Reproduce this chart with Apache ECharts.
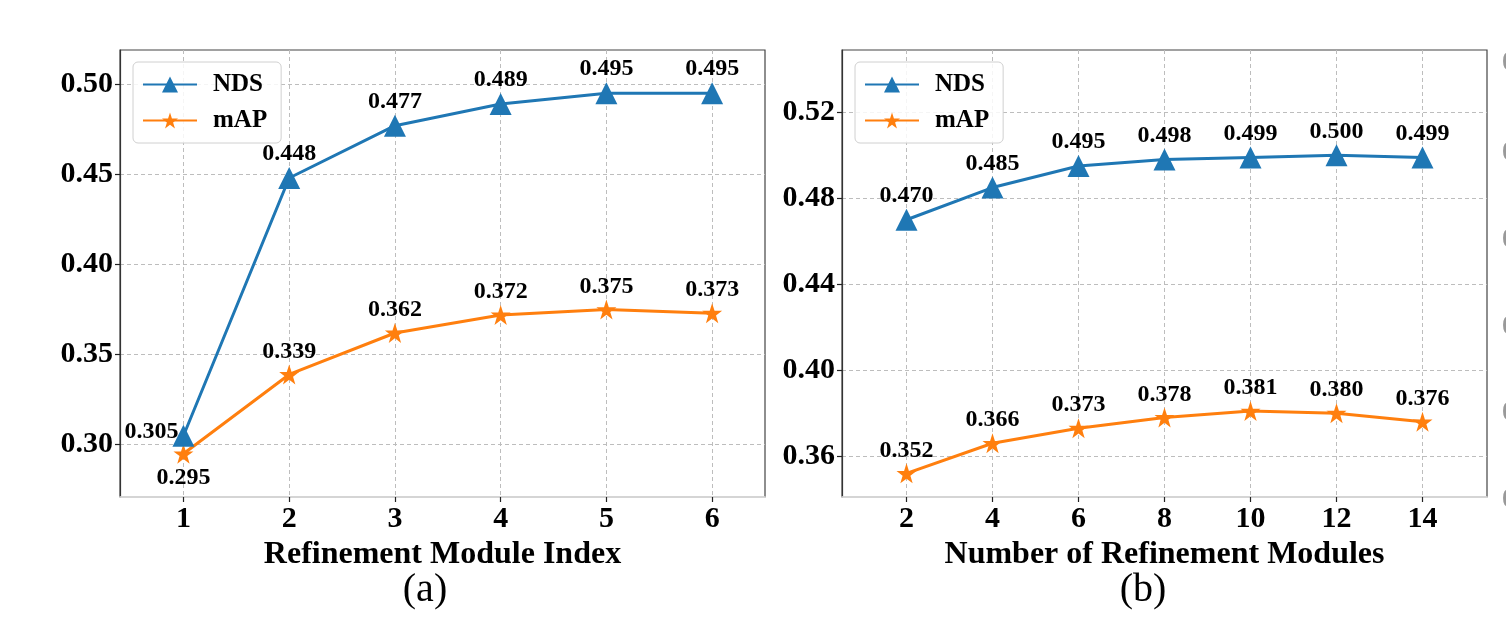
<!DOCTYPE html>
<html><head><meta charset="utf-8">
<script src="https://cdn.jsdelivr.net/npm/echarts@6/dist/echarts.min.js"></script>
<style>html,body{margin:0;padding:0;background:#fff}#c{width:1506px;height:624px}</style>
</head><body><div id="c"></div>
<script>
const xA = [1, 2, 3, 4, 5, 6];
const ndsA = [0.305, 0.448, 0.477, 0.489, 0.495, 0.495];
const mapA = [0.295, 0.339, 0.362, 0.372, 0.375, 0.373];
const xB = [2, 4, 6, 8, 10, 12, 14];
const ndsB = [0.470, 0.485, 0.495, 0.498, 0.499, 0.500, 0.499];
const mapB = [0.352, 0.366, 0.373, 0.378, 0.381, 0.380, 0.376];
const yTicksA = [0.30, 0.35, 0.40, 0.45, 0.50];
const yTicksB = [0.36, 0.40, 0.44, 0.48, 0.52];
const titleA = 'Refinement Module Index';
const titleB = 'Number of Refinement Modules';
const edgeGlyphYs = [63, 153, 240, 327, 413, 500];

const BLUE = '#1f77b4', ORANGE = '#ff7f0e';
const FONT = '"Liberation Serif","Times New Roman",serif';
const STAR = 'path://M50,0 L61.8,35.4 L99,35.4 L69,57.3 L80.3,92.7 L50,70.8 L19.7,92.7 L31,57.3 L1,35.4 L38.2,35.4 Z';
const chart = echarts.init(document.getElementById('c'));

function xAxis(gi, min, max, ticks, name) {
  return {
    type: 'value', gridIndex: gi, min: min, max: max,
    name: name, nameLocation: 'middle', nameGap: 35,
    nameTextStyle: {fontFamily: FONT, fontWeight: 'bold', fontSize: 32, color: '#000'},
    axisLine: {show: true, lineStyle: {color: '#e6e6e6', width: 1.5}},
    axisTick: {show: true, customValues: ticks, length: 5, lineStyle: {color: '#222', width: 1.2}},
    axisLabel: {customValues: ticks, margin: 7, fontFamily: FONT, fontWeight: 'bold', fontSize: 30, color: '#000'},
    splitLine: {show: true, lineStyle: {color: '#bdbdbd', type: [4, 3], width: 1}}
  };
}
function yAxis(gi, min, max, ticks) {
  return {
    type: 'value', gridIndex: gi, min: min, max: max,
    axisLine: {show: true, lineStyle: {color: '#333', width: 1.2}},
    axisTick: {show: true, customValues: ticks, length: 5, lineStyle: {color: '#222', width: 1.2}},
    axisLabel: {customValues: ticks, margin: 7, fontFamily: FONT, fontWeight: 'bold', fontSize: 30, color: '#000',
      formatter: v => v.toFixed(2)},
    splitLine: {show: true, lineStyle: {color: '#bdbdbd', type: [4, 3], width: 1}}
  };
}
const lblStyle = {show: true, position: 'top', distance: 1, fontFamily: FONT, fontWeight: 'bold', fontSize: 24, color: '#000',
  formatter: p => p.value[1].toFixed(3)};

function mkSeries(name, xs, ys, gi, color, symbol, size, special) {
  return {
    type: 'line', name: name, xAxisIndex: gi, yAxisIndex: gi,
    data: xs.map((x, i) => {
      const d = {value: [x, ys[i]]};
      if (special && special[i]) d.label = special[i];
      return d;
    }),
    symbol: symbol, symbolSize: size, showAllSymbol: true,
    lineStyle: {color: color, width: 3},
    itemStyle: {color: color},
    label: lblStyle, animation: false, z: name === 'NDS' ? 3 : 2
  };
}

function legend(left) {
  return {
    left: left, top: 62, orient: 'vertical', data: ['NDS', 'mAP'],
    itemWidth: 54, itemHeight: 20, itemGap: 11,
    padding: [10, 14, 10, 9],
    borderColor: '#d0d0d0', borderWidth: 1, borderRadius: 5, backgroundColor: 'rgba(255,255,255,0.85)',
    textStyle: {fontFamily: FONT, fontWeight: 'bold', fontSize: 25, color: '#000', padding: [0, 0, 0, 11]},
    selectedMode: false
  };
}

chart.setOption({
  animation: false,
  backgroundColor: '#fff',
  grid: [
    {left: 120, top: 50, width: 645, height: 447, show: true, borderColor: '#444', borderWidth: 1.2},
    {left: 842, top: 50, width: 645, height: 447, show: true, borderColor: '#444', borderWidth: 1.2}
  ],
  title: [
    {text: '(a)', left: 420, top: 565, textAlign: 'center', textStyle: {fontFamily: FONT, fontWeight: 'normal', fontSize: 40, color: '#000'}},
    {text: '(b)', left: 1138, top: 565, textAlign: 'center', textStyle: {fontFamily: FONT, fontWeight: 'normal', fontSize: 40, color: '#000'}}
  ],
  graphic: edgeGlyphYs.map(y => ({type: 'text', left: 1502, top: y - 14,
    style: {text: '0', fontFamily: FONT, fontWeight: 'bold', fontSize: 28, fill: '#999'}})),
  legend: [legend(133), legend(855)],
  xAxis: [xAxis(0, 0.4, 6.5, xA, titleA), xAxis(1, 0.5, 15.5, xB, titleB)],
  yAxis: [yAxis(0, 0.271, 0.519, yTicksA), yAxis(1, 0.341, 0.549, yTicksB)],
  series: [
    mkSeries('NDS', xA, ndsA, 0, BLUE, 'triangle', 22, {0: {position: 'left', distance: 0, offset: [6, -4]}}),
    mkSeries('mAP', xA, mapA, 0, ORANGE, STAR, 20, {0: {position: 'bottom', distance: 2}}),
    mkSeries('NDS', xB, ndsB, 1, BLUE, 'triangle', 22),
    mkSeries('mAP', xB, mapB, 1, ORANGE, STAR, 20)
  ]
});
</script></body></html>
